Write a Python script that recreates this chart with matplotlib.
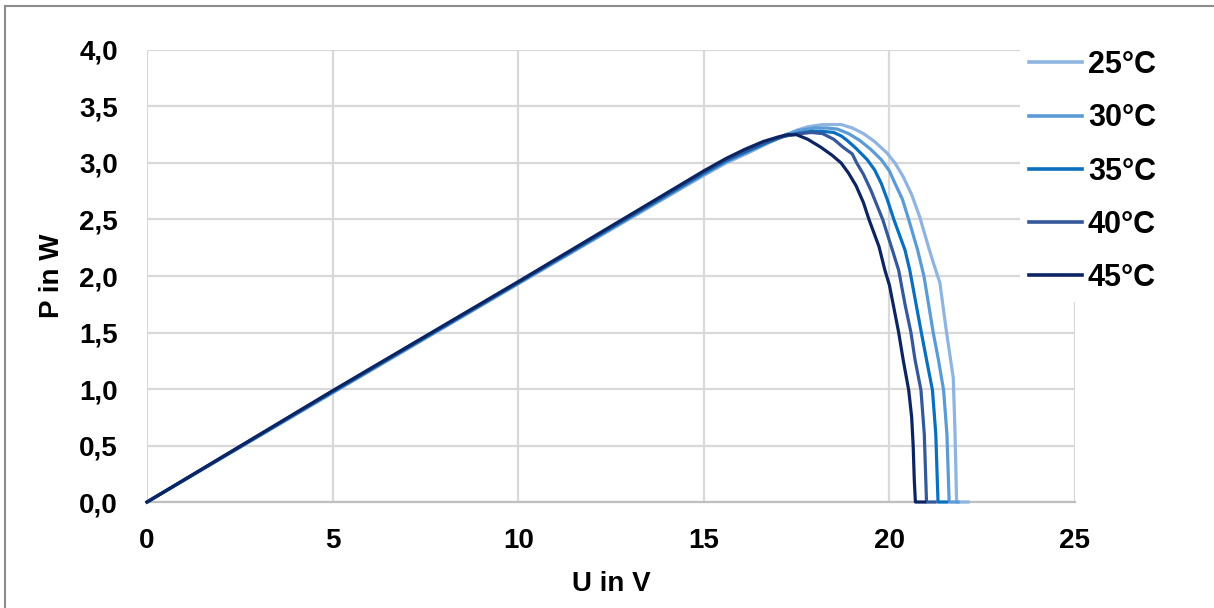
import matplotlib.pyplot as plt
from matplotlib.lines import Line2D

plt.rcParams['font.family'] = ['Liberation Sans', 'DejaVu Sans']

# P-U Kennlinien bei verschiedenen Modultemperaturen
labels = ['25°C', '30°C', '35°C', '40°C', '45°C']
colors = ['#8FB4E0', '#5B9BD5', '#0A6FBF', '#34589A', '#0C2461']

u_25 = [0, 5, 10, 15, 15.6, 16.2, 16.7, 17.1, 17.5, 17.8, 18.2, 18.7, 19.0, 19.3, 19.6,
        19.93, 20.15, 20.37, 20.6, 20.82, 21.05, 21.2, 21.36, 21.54, 21.72, 21.76,
        21.79, 21.81, 22.12]
p_25 = [0, 0.965, 1.93, 2.89, 3.0, 3.09, 3.17, 3.23, 3.29, 3.32, 3.34, 3.34, 3.31, 3.26,
        3.19, 3.09, 3.0, 2.88, 2.72, 2.52, 2.26, 2.1, 1.94, 1.5, 1.1, 0.7, 0.3, 0.0, 0.0]

u_30 = [0, 5, 10, 15, 15.6, 16.2, 16.7, 17.2, 17.6, 18.0, 18.3, 18.6, 18.9, 19.2, 19.5,
        19.78, 20.0, 20.15, 20.35, 20.52, 20.76, 20.93, 21.18, 21.32, 21.46, 21.55,
        21.58, 21.61, 21.85]
p_30 = [0, 0.97, 1.935, 2.9, 3.01, 3.1, 3.18, 3.25, 3.29, 3.31, 3.31, 3.3, 3.26, 3.2,
        3.12, 3.03, 2.93, 2.82, 2.68, 2.5, 2.23, 2.0, 1.5, 1.26, 0.99, 0.6, 0.3, 0.0, 0.0]

u_35 = [0, 5, 10, 15, 15.6, 16.2, 16.7, 17.1, 17.5, 17.9, 18.2, 18.5, 18.7, 18.86, 19.1,
        19.4, 19.6, 19.78, 19.95, 20.12, 20.42, 20.55, 20.86, 21.0, 21.16, 21.25, 21.28,
        21.31, 21.54]
p_35 = [0, 0.975, 1.94, 2.91, 3.02, 3.11, 3.18, 3.23, 3.26, 3.28, 3.28, 3.27, 3.24, 3.2,
        3.13, 3.03, 2.94, 2.82, 2.67, 2.5, 2.23, 2.05, 1.5, 1.26, 0.99, 0.6, 0.3, 0.0, 0.0]

u_40 = [0, 5, 10, 15, 15.6, 16.2, 16.7, 17.2, 17.6, 17.9, 18.2, 18.5, 18.75, 19.0, 19.12,
        19.3, 19.5, 19.82, 20.08, 20.25, 20.42, 20.58, 20.69, 20.85, 20.94, 20.97,
        21.0, 21.23]
p_40 = [0, 0.98, 1.945, 2.92, 3.03, 3.12, 3.19, 3.24, 3.26, 3.27, 3.26, 3.21, 3.14, 3.08,
        3.0, 2.9, 2.76, 2.5, 2.23, 2.05, 1.75, 1.5, 1.26, 0.99, 0.6, 0.3, 0.0, 0.0]

u_45 = [0, 5, 10, 15, 15.6, 16.1, 16.6, 17.0, 17.25, 17.5, 17.8, 18.15, 18.45, 18.7,
        18.9, 19.1, 19.3, 19.45, 19.72, 19.88, 20.0, 20.25, 20.37, 20.52, 20.6, 20.64,
        20.67, 20.7, 20.95]
p_45 = [0, 0.985, 1.95, 2.93, 3.04, 3.12, 3.19, 3.23, 3.25, 3.25, 3.21, 3.14, 3.07, 3.0,
        2.91, 2.8, 2.65, 2.5, 2.26, 2.05, 1.92, 1.5, 1.26, 0.99, 0.75, 0.5, 0.2, 0.0, 0.0]

kurven = [(u_25, p_25), (u_30, p_30), (u_35, p_35), (u_40, p_40), (u_45, p_45)]

fig = plt.figure(figsize=(12.14, 6.08), dpi=100)
ax = fig.add_axes([0.1211, 0.1743, 0.7644, 0.7435])

for (u, p), lab, col in zip(kurven, labels, colors):
    ax.plot(u, p, color=col, lw=2.3, label=lab, clip_on=False, zorder=3,
            solid_joinstyle='round')

ax.set_xlim(0, 25)
ax.set_ylim(0, 4.0)
ax.set_xticks([0, 5, 10, 15, 20, 25])
ax.set_yticks([i * 0.5 for i in range(9)])
ax.set_yticklabels([f'{i * 0.5:.1f}'.replace('.', ',') for i in range(9)])

ax.grid(True, color='#D9D9D9', lw=1.6)
ax.set_axisbelow(True)
for side in ['top', 'right', 'left']:
    ax.spines[side].set_visible(False)
ax.spines['bottom'].set_color('#BFBFBF')
ax.spines['bottom'].set_linewidth(1.6)
ax.tick_params(length=0, labelsize=20)
ax.tick_params(axis='y', pad=21)
ax.tick_params(axis='x', pad=19)
for t in ax.get_xticklabels() + ax.get_yticklabels():
    t.set_fontweight('bold')

ax.set_xlabel('U in V', fontsize=20, fontweight='bold', labelpad=12)
ax.set_ylabel('P in W', fontsize=20, fontweight='bold', labelpad=10)

# Legende mit weißem Hintergrund über dem Gitter
leg = fig.legend(loc='upper left', bbox_to_anchor=(1020 / 1214, 1 - 41 / 608),
                 frameon=True, facecolor='white', edgecolor='none', framealpha=1,
                 fancybox=False, prop={'weight': 'bold', 'size': 22},
                 handlelength=1.72, handletextpad=0.2, labelspacing=0.76,
                 borderpad=0.3, borderaxespad=0)
for h in leg.get_lines():
    h.set_linewidth(2.6)

# Rahmen oben und links
fig.add_artist(Line2D([5 / 1214, 5 / 1214], [0, 1 - 6 / 608],
                      transform=fig.transFigure, color='#8C8C8C', lw=1.5))
fig.add_artist(Line2D([5 / 1214, 1], [1 - 6 / 608, 1 - 6 / 608],
                      transform=fig.transFigure, color='#8C8C8C', lw=1.5))

fig.savefig('out.png', dpi=100)
